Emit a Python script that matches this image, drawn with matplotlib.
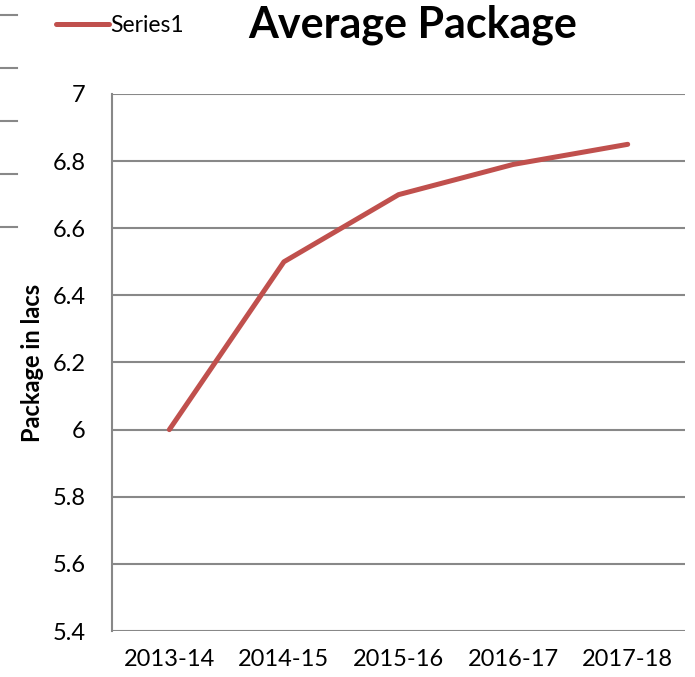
import matplotlib
matplotlib.use("Agg")
import matplotlib.pyplot as plt
from matplotlib.lines import Line2D

# data
years = ["2013-14", "2014-15", "2015-16", "2016-17", "2017-18"]
package = [6.0, 6.5, 6.7, 6.79, 6.85]
yticks = [5.4, 5.6, 5.8, 6.0, 6.2, 6.4, 6.6, 6.8, 7.0]
ytick_labels = ["5.4", "5.6", "5.8", "6", "6.2", "6.4", "6.6", "6.8", "7"]

plt.rcParams['font.family'] = ['Lato', 'DejaVu Sans']

fig = plt.figure(figsize=(6.95, 6.77), dpi=100)
ax = fig.add_axes([0.1612, 0.0679, 0.8244, 0.7933])

x = range(len(years))
ax.plot(x, package, color="#C0504D", linewidth=3.6, solid_capstyle="round", label="Series1")

ax.set_xlim(-0.5, len(years) - 0.5)
ax.set_ylim(5.4, 7.0)
ax.set_yticks(yticks)
ax.set_yticklabels(ytick_labels)
ax.set_xticks(list(x))
ax.set_xticklabels(years)
ax.tick_params(axis="both", length=0, labelsize=17, colors="black")
ax.tick_params(axis="y", pad=19)
ax.tick_params(axis="x", pad=13)
ax.grid(axis="y", color="#888888", linewidth=1.5)
ax.set_axisbelow(True)
for s in ["top", "right", "bottom"]:
    ax.spines[s].set_visible(False)
ax.spines["left"].set_color("#888888")
ax.spines["left"].set_linewidth(1.5)

ax.set_ylabel("Package in lacs", fontsize=17, fontweight="bold", labelpad=6)

fig.text(0.594, 0.963, "Average Package", fontsize=31, fontweight="bold",
         ha="center", va="center")

leg = fig.legend(loc="center left", bbox_to_anchor=(0.064, 0.963), frameon=False,
                 fontsize=16.5, handlelength=2.3, handletextpad=0.05, borderpad=0)

# stray tick marks at the left edge of the picture
for yy in [15, 68, 121, 174, 227]:
    fig.add_artist(Line2D([0, 17 / 695], [1 - yy / 677, 1 - yy / 677],
                          color="#888888", linewidth=1.5))

fig.savefig("out.png", dpi=100)
